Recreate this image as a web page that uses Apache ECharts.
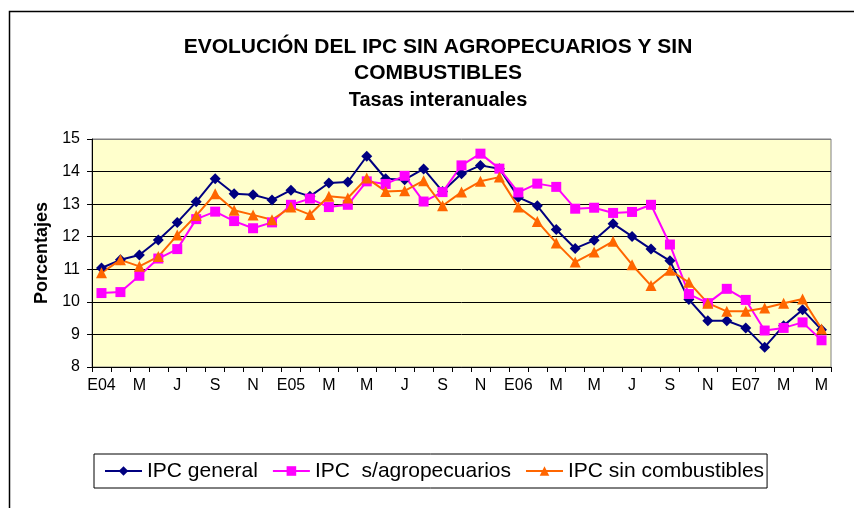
<!DOCTYPE html>
<html>
<head>
<meta charset="utf-8">
<script src="https://cdn.jsdelivr.net/npm/echarts@6/dist/echarts.min.js"></script>
<style>
  html, body { margin: 0; padding: 0; background: #ffffff; }
  #chart { width: 854px; height: 508px; }
</style>
</head>
<body>
<div id="chart"></div>
<script>
// Month labels (only every other one is shown on the axis)
const months = [
  'E04','F','M','A','J','A','S','O','N','D',
  'E05','F','M','A','M','J','J','A','S','O','N','D',
  'E06','F','M','A','M','J','J','A','S','O','N','D',
  'E07','F','M','A','M'
];

// Year-on-year rates, %
const ipcGeneral = [
  11.04, 11.29, 11.44, 11.90, 12.44, 13.07, 13.78, 13.32, 13.29, 13.13,
  13.43, 13.24, 13.65, 13.68, 14.47, 13.78, 13.75, 14.08, 13.39, 13.93,
  14.19, 14.09, 13.21, 12.95, 12.22, 11.64, 11.89, 12.40, 12.01, 11.62,
  11.26, 10.07, 9.42, 9.42, 9.20, 8.61, 9.27, 9.76, 9.14
];
const ipcSinAgro = [
  10.27, 10.30, 10.80, 11.33, 11.62, 12.54, 12.77, 12.48, 12.26, 12.44,
  12.98, 13.17, 12.91, 12.98, 13.70, 13.62, 13.87, 13.08, 13.37, 14.19,
  14.55, 14.09, 13.36, 13.63, 13.53, 12.86, 12.89, 12.73, 12.76, 12.98,
  11.76, 10.24, 9.96, 10.40, 10.06, 9.12, 9.20, 9.37, 8.82
];
const ipcSinComb = [
  10.89, 11.29, 11.09, 11.39, 12.05, 12.65, 13.32, 12.81, 12.67, 12.52,
  12.91, 12.68, 13.24, 13.19, 13.80, 13.39, 13.41, 13.72, 12.95, 13.37,
  13.70, 13.83, 12.91, 12.47, 11.81, 11.22, 11.53, 11.86, 11.14, 10.50,
  10.97, 10.60, 9.96, 9.71, 9.71, 9.81, 9.96, 10.09, 9.17
];

const seriesNames = ['IPC general', 'IPC  s/agropecuarios', 'IPC sin combustibles'];
const titleLines = ['EVOLUCIÓN DEL IPC SIN AGROPECUARIOS Y SIN', 'COMBUSTIBLES', 'Tasas interanuales'];

const FONT = '"Liberation Sans", Arial, sans-serif';

function lineSeries(name, data, color, symbol, size) {
  return {
    name: name,
    type: 'line',
    data: data,
    symbol: symbol,
    symbolSize: size,
    showAllSymbol: true,
    lineStyle: { color: color, width: 2 },
    itemStyle: { color: color, borderWidth: 0 },
    emphasis: { disabled: true },
    animation: false
  };
}

const chart = echarts.init(document.getElementById('chart'), null, { renderer: 'canvas' });

chart.setOption({
  backgroundColor: '#ffffff',
  animation: false,
  textStyle: { fontFamily: FONT },
  graphic: [
    {
      type: 'rect',
      shape: { x: 9.5, y: 11.5, width: 880, height: 540 },
      style: { fill: null, stroke: '#000', lineWidth: 1.5 },
      silent: true, z: -1
    },
    {
      type: 'text',
      style: { text: titleLines[0], x: 438, y: 47, align: 'center', verticalAlign: 'middle',
               font: 'bold 21px ' + FONT, fill: '#000' }
    },
    {
      type: 'text',
      style: { text: titleLines[1], x: 438, y: 73, align: 'center', verticalAlign: 'middle',
               font: 'bold 21px ' + FONT, fill: '#000' }
    },
    {
      type: 'text',
      style: { text: titleLines[2], x: 438, y: 100, align: 'center', verticalAlign: 'middle',
               font: 'bold 20px ' + FONT, fill: '#000' }
    }
  ],
  grid: {
    left: 92, right: 23, top: 139, bottom: 141,
    show: true,
    backgroundColor: '#FFFFCC',
    borderColor: '#808080',
    borderWidth: 1
  },
  legend: {
    data: seriesNames,
    left: 94, top: 454,
    padding: [6, 3, 6, 10],
    itemWidth: 37, itemHeight: 12, itemGap: 14,
    borderColor: '#000', borderWidth: 1,
    backgroundColor: '#fff',
    textStyle: { fontSize: 21, color: '#000', fontFamily: FONT, lineHeight: 22 },
    selectedMode: false
  },
  xAxis: {
    type: 'category',
    data: months,
    boundaryGap: true,
    axisLine: { lineStyle: { color: '#000', width: 1 } },
    axisTick: { show: true, interval: 0, length: 5, lineStyle: { color: '#000' } },
    axisLabel: { interval: 1, color: '#000', fontSize: 16, margin: 11, fontFamily: FONT },
    splitLine: { show: false }
  },
  yAxis: {
    type: 'value',
    min: 8, max: 15, interval: 1,
    name: 'Porcentajes',
    nameLocation: 'middle',
    nameGap: 33,
    nameRotate: 90,
    nameTextStyle: { fontSize: 18, fontWeight: 'bold', color: '#000', fontFamily: FONT },
    axisLine: { show: true, lineStyle: { color: '#000', width: 1 } },
    axisTick: { show: true, length: 5, lineStyle: { color: '#000' } },
    axisLabel: { color: '#000', fontSize: 16, margin: 12, fontFamily: FONT },
    splitLine: {
      show: true,
      lineStyle: { color: ['#000', '#000', '#000', '#000', '#000', '#000', '#000', '#808080'], width: 1 }
    }
  },
  series: [
    lineSeries(seriesNames[0], ipcGeneral, '#000080', 'diamond', 11),
    lineSeries(seriesNames[1], ipcSinAgro, '#FF00FF', 'rect', 10),
    lineSeries(seriesNames[2], ipcSinComb, '#FF6600', 'triangle', 11)
  ]
});
</script>
</body>
</html>
